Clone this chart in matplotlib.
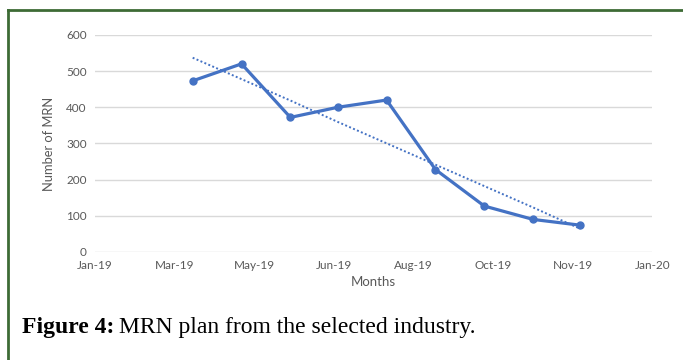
import numpy as np
import matplotlib.pyplot as plt
from matplotlib.lines import Line2D
from matplotlib.transforms import offset_copy

# data (x as days since 1 Jan 2019)
days = [64, 96, 128, 159, 191, 223, 255, 287, 318]
mrn = [473, 520, 372, 400, 420, 228, 127, 90, 74]
tick_labels = ['Jan-19', 'Mar-19', 'May-19', 'Jun-19', 'Aug-19', 'Oct-19', 'Nov-19', 'Jan-20']
y_ticks = [0, 100, 200, 300, 400, 500, 600]

blue = '#4472C4'
grey = '#595959'
plt.rcParams['font.family'] = ['Lato', 'DejaVu Sans']

fig = plt.figure(figsize=(6.83, 3.6), dpi=100)
ax = fig.add_axes([0.139, 0.30, 0.816, 0.603])

ax.plot(days, mrn, color=blue, lw=2.3, marker='o', ms=5, solid_joinstyle='round', zorder=3)

# linear trendline
k, b = np.polyfit(range(len(mrn)), mrn, 1)
fit = [b + k * i for i in range(len(mrn))]
ax.plot(days, fit, color=blue, lw=1.4, ls=(0, (1, 1.2)), zorder=2)

ax.set_xlim(0, 365)
ax.set_ylim(0, 600)
ax.set_xticks(np.linspace(0, 365, len(tick_labels)))
ax.set_xticklabels(tick_labels)
ax.set_yticks(y_ticks)
ax.grid(axis='y', color='#d9d9d9', lw=1)
ax.set_axisbelow(True)
for s in ax.spines.values():
    s.set_visible(False)
ax.tick_params(length=0, colors=grey, labelsize=8.5, pad=6)
ax.set_xlabel('Months', color=grey, fontsize=9.5, labelpad=3)
ax.set_ylabel('Number of MRN', color=grey, fontsize=9.3, labelpad=8)

# caption: bold label followed by plain text
t1 = fig.text(0.032, 0.074, 'Figure 4:', fontsize=17, fontweight='bold', family='Liberation Serif')
fig.canvas.draw()
w = t1.get_window_extent().width
fig.text(0.032, 0.074, 'MRN plan from the selected industry.', fontsize=17, family='Liberation Serif',
         transform=offset_copy(fig.transFigure, fig=fig, x=(w + 5) * 72 / fig.dpi, units='points'))

# green frame
green = '#3d6b35'
fig.add_artist(Line2D([0.011, 0.011], [0, 0.972], color=green, lw=2, transform=fig.transFigure))
fig.add_artist(Line2D([0.011, 1], [0.972, 0.972], color=green, lw=2, transform=fig.transFigure))

fig.savefig('out.png', dpi=100)
